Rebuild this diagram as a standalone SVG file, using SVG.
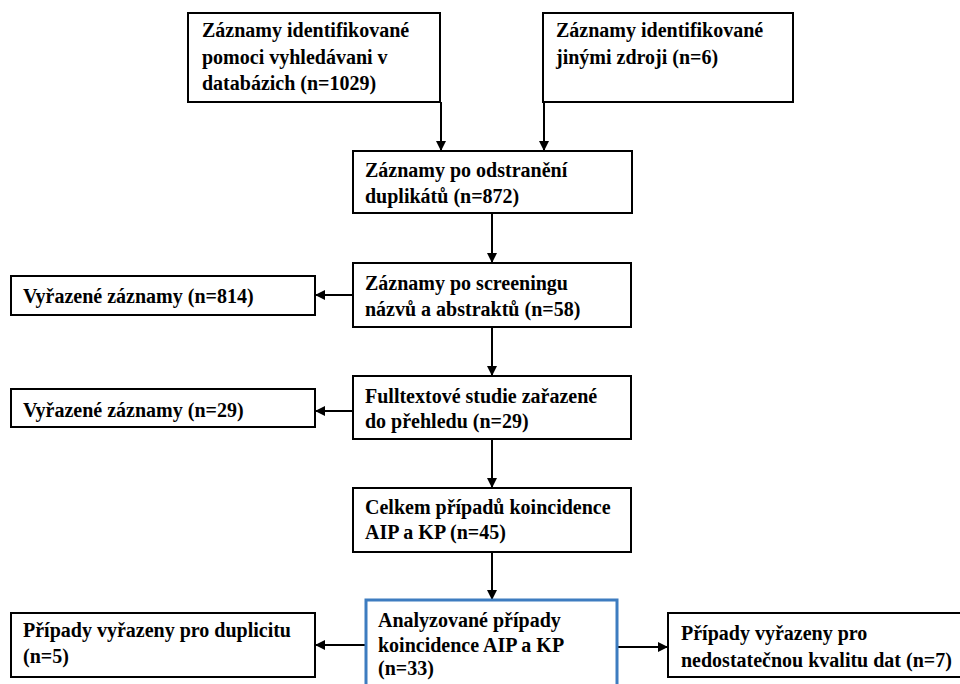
<svg xmlns="http://www.w3.org/2000/svg" width="960" height="684" viewBox="0 0 960 684">
  <defs>
    <marker id="arr" markerUnits="userSpaceOnUse" markerWidth="10" markerHeight="10" refX="10" refY="5" orient="auto">
      <path d="M0,0 L10,5 L0,10 z" fill="#000"/>
    </marker>
  </defs>
  <rect width="960" height="684" fill="#fff"/>

  <g id="connectors" stroke="#000" stroke-width="2" fill="none" marker-end="url(#arr)">
    <line x1="441" y1="102" x2="441" y2="151"/>
    <line x1="544" y1="102" x2="544" y2="151"/>
    <line x1="492" y1="213" x2="492" y2="263"/>
    <line x1="353" y1="295" x2="315" y2="295"/>
    <line x1="492" y1="327" x2="492" y2="376"/>
    <line x1="353" y1="411" x2="315" y2="411"/>
    <line x1="492" y1="439" x2="492" y2="488"/>
    <line x1="492" y1="552" x2="492" y2="600"/>
    <line x1="366" y1="645" x2="315" y2="645"/>
    <line x1="617" y1="647" x2="668" y2="647"/>
  </g>

  <g id="nodes" fill="#000">
  <g id="n1">
    <rect fill="#fff" stroke="#000" stroke-width="2" x="188" y="13" width="252" height="89"/>
    <text style="font-family:'Liberation Serif',serif;font-weight:700;font-size:20px" x="202" y="37">Záznamy identifikované</text>
    <text style="font-family:'Liberation Serif',serif;font-weight:700;font-size:20px" x="202" y="64">pomoci vyhledávani v</text>
    <text style="font-family:'Liberation Serif',serif;font-weight:700;font-size:20px" x="202" y="90">databázich (n=1029)</text>
  </g>
  <g id="n2">
    <rect fill="#fff" stroke="#000" stroke-width="2" x="543" y="13" width="250" height="89"/>
    <text style="font-family:'Liberation Serif',serif;font-weight:700;font-size:20px" x="556" y="37">Záznamy identifikované</text>
    <text style="font-family:'Liberation Serif',serif;font-weight:700;font-size:20px" x="556" y="64">jinými zdroji (n=6)</text>
  </g>
  <g id="n3">
    <rect fill="#fff" stroke="#000" stroke-width="2" x="353" y="151" width="279" height="62"/>
    <text style="font-family:'Liberation Serif',serif;font-weight:700;font-size:20px" x="365" y="177">Záznamy po odstranění</text>
    <text style="font-family:'Liberation Serif',serif;font-weight:700;font-size:20px" x="365" y="203">duplikátů (n=872)</text>
  </g>
  <g id="n4">
    <rect fill="#fff" stroke="#000" stroke-width="2" x="353" y="263" width="278" height="64"/>
    <text style="font-family:'Liberation Serif',serif;font-weight:700;font-size:20px" x="365" y="290">Záznamy po screeningu</text>
    <text style="font-family:'Liberation Serif',serif;font-weight:700;font-size:20px" x="365" y="316">názvů a abstraktů (n=58)</text>
  </g>
  <g id="n5">
    <rect fill="#fff" stroke="#000" stroke-width="2" x="11" y="276" width="304" height="39"/>
    <text style="font-family:'Liberation Serif',serif;font-weight:700;font-size:20px" x="23" y="303">Vyřazené záznamy (n=814)</text>
  </g>
  <g id="n6">
    <rect fill="#fff" stroke="#000" stroke-width="2" x="353" y="376" width="278" height="63"/>
    <text style="font-family:'Liberation Serif',serif;font-weight:700;font-size:20px" x="365" y="403">Fulltextové studie zařazené</text>
    <text style="font-family:'Liberation Serif',serif;font-weight:700;font-size:20px" x="365" y="428">do přehledu (n=29)</text>
  </g>
  <g id="n7">
    <rect fill="#fff" stroke="#000" stroke-width="2" x="11" y="389" width="304" height="38"/>
    <text style="font-family:'Liberation Serif',serif;font-weight:700;font-size:20px" x="23" y="417">Vyřazené záznamy (n=29)</text>
  </g>
  <g id="n8">
    <rect fill="#fff" stroke="#000" stroke-width="2" x="353" y="488" width="278" height="64"/>
    <text style="font-family:'Liberation Serif',serif;font-weight:700;font-size:20px" x="365" y="514">Celkem případů koincidence</text>
    <text style="font-family:'Liberation Serif',serif;font-weight:700;font-size:20px" x="365" y="539">AIP a KP (n=45)</text>
  </g>
  <g id="n9">
    <rect fill="#fff" stroke="#3d7cc0" stroke-width="3" x="366" y="600" width="251" height="100"/>
    <text style="font-family:'Liberation Serif',serif;font-weight:700;font-size:20px" x="378" y="627">Analyzované případy</text>
    <text style="font-family:'Liberation Serif',serif;font-weight:700;font-size:20px" x="378" y="652">koincidence AIP a KP</text>
    <text style="font-family:'Liberation Serif',serif;font-weight:700;font-size:20px" x="378" y="675">(n=33)</text>
  </g>
  <g id="n10">
    <rect fill="#fff" stroke="#000" stroke-width="2" x="11" y="613" width="304" height="64"/>
    <text style="font-family:'Liberation Serif',serif;font-weight:700;font-size:20px" x="23" y="637">Případy vyřazeny pro duplicitu</text>
    <text style="font-family:'Liberation Serif',serif;font-weight:700;font-size:20px" x="23" y="663">(n=5)</text>
  </g>
  <g id="n11">
    <rect fill="#fff" stroke="#000" stroke-width="2" x="668" y="613" width="310" height="64"/>
    <text style="font-family:'Liberation Serif',serif;font-weight:700;font-size:20px" x="681" y="640">Případy vyřazeny pro</text>
    <text style="font-family:'Liberation Serif',serif;font-weight:700;font-size:20px" x="681" y="667">nedostatečnou kvalitu dat (n=7)</text>
  </g>
  </g>
</svg>
